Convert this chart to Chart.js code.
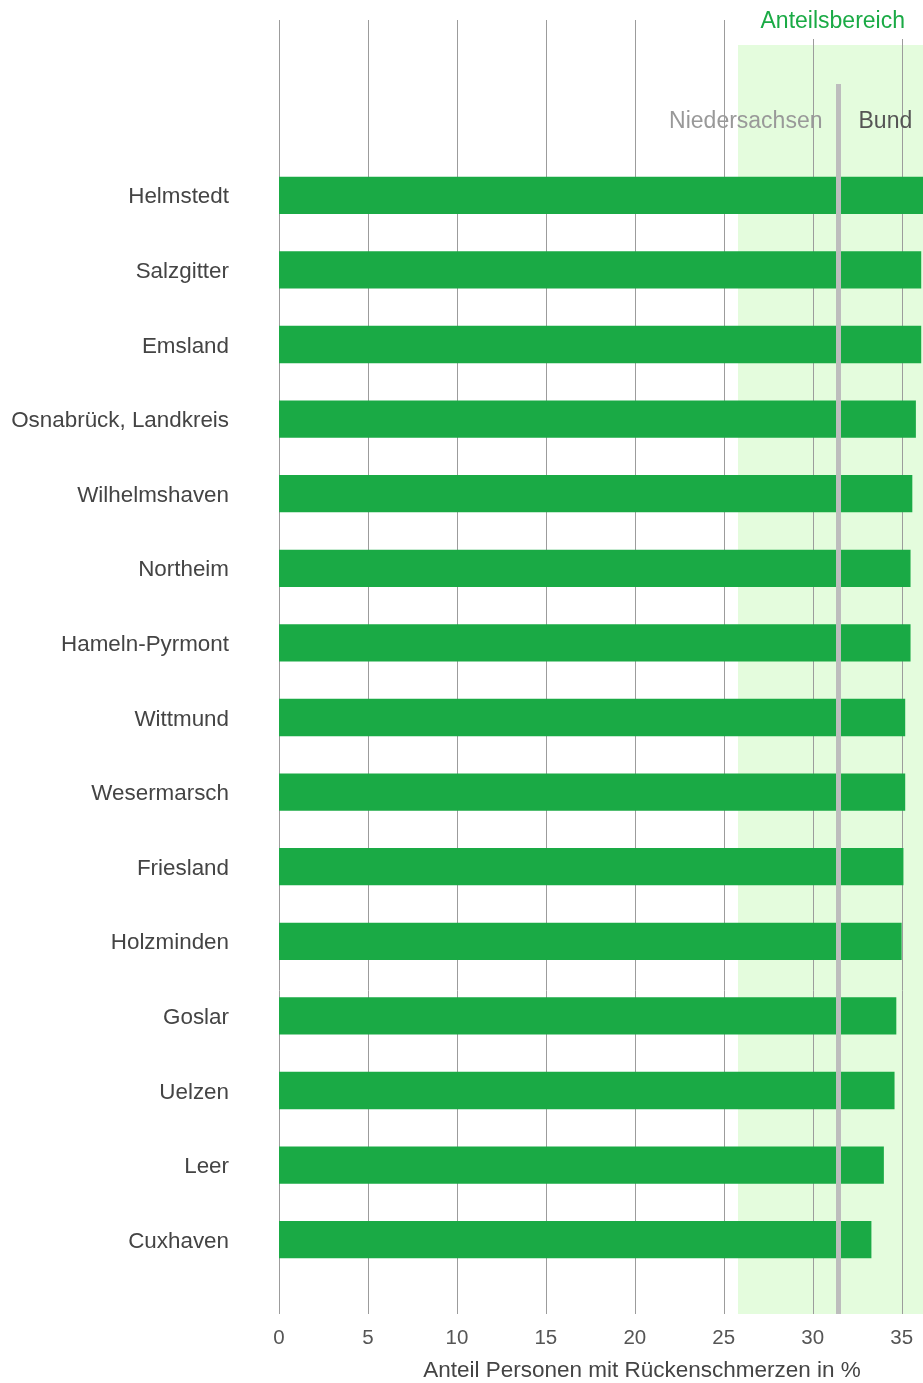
<!DOCTYPE html>
<html>
<head>
<meta charset="utf-8">
<script src="https://cdn.jsdelivr.net/npm/chart.js@4"></script>
<style>
  html, body { margin: 0; padding: 0; background: #fff; }
</style>
</head>
<body>
<canvas id="chart" width="923" height="1383"></canvas>
<script>
// Regionen (Landkreise / kreisfreie Städte)
const regions = [
    "Helmstedt",
    "Salzgitter",
    "Emsland",
    "Osnabrück, Landkreis",
    "Wilhelmshaven",
    "Northeim",
    "Hameln-Pyrmont",
    "Wittmund",
    "Wesermarsch",
    "Friesland",
    "Holzminden",
    "Goslar",
    "Uelzen",
    "Leer",
    "Cuxhaven",
];
// Anteil Personen mit Rückenschmerzen in %
const shares = [36.3, 36.1, 36.1, 35.8, 35.6, 35.5, 35.5, 35.2, 35.2, 35.1, 35.0, 34.7, 34.6, 34.0, 33.3];
const xTicks = [0, 5, 10, 15, 20, 25, 30, 35];
const xMax = 36.2;
// Anteilsbereich startet hier, Referenzlinie Niedersachsen / Bund
const rangeStart = 25.8;
const referenceValue = 31.45;

const FONT = 'Arial, "Liberation Sans", sans-serif';

// shading, grid lines, reference line and texts
const overlay = {
    id: "overlay",
    beforeDatasetsDraw(chart) {
        const { ctx, chartArea } = chart;
        const x = chart.scales.x;
        const top = chartArea.top - 138;
        const bottom = chartArea.bottom + 37;
        ctx.save();
        // Anteilsbereich
        ctx.fillStyle = "#e4fcdd";
        const rx = x.getPixelForValue(rangeStart);
        ctx.fillRect(rx, top + 25, chartArea.right - rx, bottom - top - 25);
        // grid lines
        ctx.strokeStyle = "#9c9c9c";
        ctx.lineWidth = 1;
        xTicks.forEach((v) => {
            const px = Math.round(x.getPixelForValue(v)) + 0.5;
            ctx.beginPath();
            ctx.moveTo(px, top);
            ctx.lineTo(px, bottom);
            ctx.stroke();
        });
        // white box behind the title
        ctx.font = "23px " + FONT;
        const titleRight = 905;
        const w = ctx.measureText("Anteilsbereich").width;
        ctx.fillStyle = "#fff";
        ctx.fillRect(titleRight - w - 6, 0, chartArea.right - titleRight + w + 6, top + 19);
        ctx.fillStyle = "#1aaa45";
        ctx.textAlign = "right";
        ctx.textBaseline = "middle";
        ctx.fillText("Anteilsbereich", titleRight, 22);
        ctx.restore();
    },
    afterDatasetsDraw(chart) {
        const { ctx, chartArea } = chart;
        const x = chart.scales.x;
        const px = x.getPixelForValue(referenceValue);
        ctx.save();
        ctx.strokeStyle = "#bdbdbd";
        ctx.lineWidth = 5;
        ctx.beginPath();
        ctx.moveTo(px, chartArea.top - 74);
        ctx.lineTo(px, chartArea.bottom + 37);
        ctx.stroke();

        ctx.font = "23px " + FONT;
        ctx.textBaseline = "middle";
        ctx.textAlign = "right";
        ctx.fillStyle = "#999";
        ctx.fillText("Niedersachsen", px - 16, 122);
        ctx.textAlign = "left";
        ctx.fillStyle = "#555";
        ctx.fillText("Bund", px + 20, 122);

        // axis title
        ctx.font = "22.5px " + FONT;
        ctx.textAlign = "center";
        ctx.fillStyle = "#444";
        ctx.fillText("Anteil Personen mit Rückenschmerzen in %", 642, 1371);
        ctx.restore();
    },
};

const ctx = document.getElementById("chart").getContext("2d");

new Chart(ctx, {
    type: "bar",
    data: {
        labels: regions,
        datasets: [
            {
                label: "Anteil",
                backgroundColor: "#1aaa45",
                borderWidth: 0,
                barPercentage: 0.5,
                categoryPercentage: 1,
                data: shares,
            },
        ],
    },
    options: {
        responsive: false,
        animation: false,
        indexAxis: "y",
        layout: {
            padding: { top: 158, right: 0, bottom: 0, left: 0 },
        },
        plugins: {
            legend: { display: false },
            tooltip: { enabled: false },
        },
        scales: {
            x: {
                min: 0,
                max: xMax,
                afterFit: (scale) => {
                    scale.height = 106;
                },
                afterBuildTicks: (scale) => {
                    scale.ticks = xTicks.map((v) => ({ value: v }));
                },
                // labels pushed down by an invisible tick length
                grid: { display: false, drawTicks: true, tickLength: 49 },
                border: { display: false },
                ticks: {
                    padding: 0,
                    color: "#555",
                    font: { family: FONT, size: 20.5 },
                    maxRotation: 0,
                },
            },
            y: {
                afterFit: (scale) => {
                    scale.width = 279;
                },
                grid: { display: false, drawTicks: true, tickLength: 50 },
                border: { display: false },
                ticks: {
                    padding: 0,
                    labelOffset: 2,
                    color: "#444",
                    font: { family: FONT, size: 22.4 },
                },
            },
        },
    },
    plugins: [overlay],
});
</script>
</body>
</html>
